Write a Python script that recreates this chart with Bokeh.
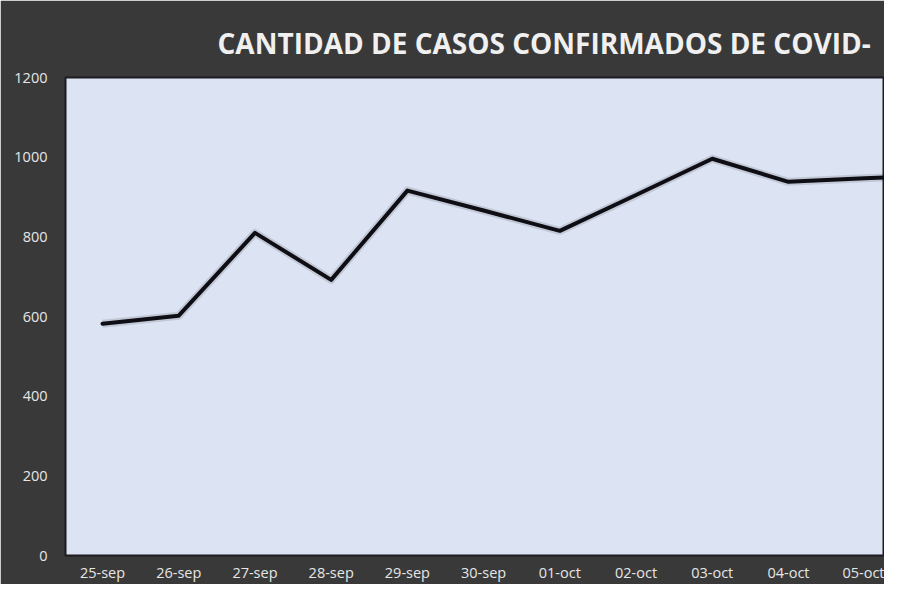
from bokeh.plotting import figure
from bokeh.models import Range1d, FixedTicker, Title
from bokeh.embed import file_html
from bokeh.resources import INLINE

dates = ["25-sep", "26-sep", "27-sep", "28-sep", "29-sep", "30-sep",
         "01-oct", "02-oct", "03-oct", "04-oct", "05-oct", "06-oct"]
casos = [582, 602, 810, 692, 916, 866, 815, 905, 996, 938, 947, 954]
y_ticks = [0, 200, 400, 600, 800, 1000, 1200]
title_text = "CANTIDAD DE CASOS CONFIRMADOS DE COVID-"

xs = list(range(len(dates)))

p = figure(width=884, height=584, output_backend="svg", toolbar_location=None,
           x_range=Range1d(-0.486, 10.26), y_range=Range1d(0, 1200),
           min_border_left=65, min_border_right=0, min_border_top=77,
           min_border_bottom=25)

p.background_fill_color = "#dce3f3"
p.border_fill_color = "#393939"
p.outline_line_color = "#1c1c22"
p.outline_line_width = 2
p.grid.visible = False

# shadow + line
p.line(xs, casos, line_color="#000000", line_width=8, line_alpha=0.12,
       line_join="round")
p.line(xs, casos, line_color="#0e0e14", line_width=4, line_join="round",
       line_cap="round")

for ax in (p.xaxis[0], p.yaxis[0]):
    ax.axis_line_color = None
    ax.major_tick_line_color = None
    ax.minor_tick_line_color = None
    ax.major_label_text_color = "#e6e6e6"
    ax.major_label_text_font = "Open Sans"
    ax.major_label_text_font_size = "14.5px"

p.yaxis.ticker = FixedTicker(ticks=y_ticks)
p.yaxis.major_label_standoff = 12
p.xaxis.ticker = FixedTicker(ticks=xs)
p.xaxis.major_label_overrides = {i: d for i, d in enumerate(dates)}
p.xaxis.major_tick_out = 0
p.xaxis.major_label_standoff = 7

t = Title(text=title_text, align="left", offset=152, text_color="#f0f0f0",
          text_font="Open Sans", text_font_style="bold",
          text_font_size="28px", standoff=32)
p.add_layout(t, "above")

open("out.html", "w").write(file_html(p, INLINE))
